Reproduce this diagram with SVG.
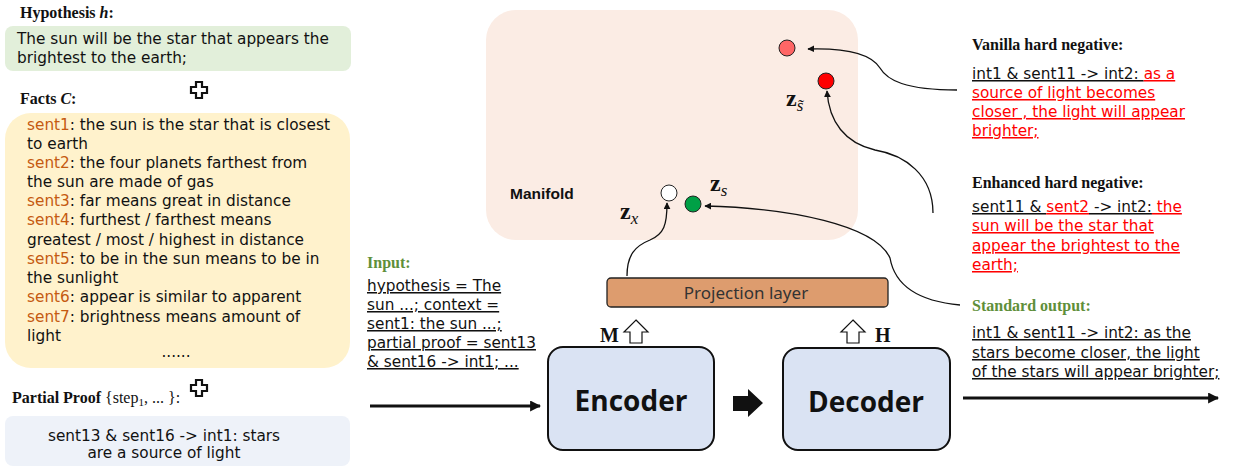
<svg xmlns="http://www.w3.org/2000/svg" width="1236" height="468" viewBox="0 0 1236 468">
<defs>
<style>
.t{font-family:"DejaVu Sans","Liberation Sans",sans-serif;font-size:15.3px;fill:#111}
.h{font-family:"Liberation Serif",serif;font-weight:bold;font-size:16px;fill:#111}
.g{fill:#5f8f3a}
.o{fill:#c55a11}
.r{fill:#ff0000}
.u{text-decoration:underline}
.big{font-family:"Open Sans","Noto Sans",sans-serif;font-weight:bold;font-size:28px;fill:#111}
.zb{font-family:"Liberation Serif",serif;font-weight:bold;font-size:24px;fill:#111}
.zi{font-family:"Liberation Serif",serif;font-style:italic;font-weight:normal;font-size:17px}
.mh{font-size:20px}
.con{fill:none;stroke:#111;stroke-width:1.3}
.thick{fill:none;stroke:#111;stroke-width:3}
</style>
<marker id="ah" viewBox="0 0 10 10" refX="9" refY="5" markerWidth="7" markerHeight="7" orient="auto" markerUnits="userSpaceOnUse">
<path d="M0,0 L10,5 L0,10 z" fill="#111"/>
</marker>
<marker id="ahb" viewBox="0 0 10 10" refX="9" refY="5" markerWidth="11" markerHeight="11" orient="auto" markerUnits="userSpaceOnUse">
<path d="M0,0 L10,5 L0,10 z" fill="#111"/>
</marker>
<path id="plus" d="M-3,-8 h6 v5 h5 v6 h-5 v5 h-6 v-5 h-5 v-6 h5 z" fill="#fff" stroke="#111" stroke-width="2.2"/>
</defs>

<g id="hypothesis">
<text class="h" x="20" y="18" font-size="16.5">Hypothesis <tspan font-style="italic">h</tspan>:</text>
<rect x="5" y="26" width="346" height="45" rx="8" fill="#e2efda"/>
<text class="t" x="17" y="44">The sun will be the star that appears the</text>
<text class="t" x="17" y="63">brightest to the earth;</text>
</g>

<use href="#plus" x="199" y="90"/>

<g id="facts">
<text class="h" x="20" y="104">Facts <tspan font-style="italic">C</tspan>:</text>
<rect x="5" y="113" width="345" height="255" rx="26" fill="#fff2cc"/>
<text class="t" x="27" y="130"><tspan class="o">sent1</tspan>: the sun is the star that is closest</text>
<text class="t" x="27" y="149">to earth</text>
<text class="t" x="27" y="168"><tspan class="o">sent2</tspan>: the four planets farthest from</text>
<text class="t" x="27" y="187">the sun are made of gas</text>
<text class="t" x="27" y="206"><tspan class="o">sent3</tspan>: far means great in distance</text>
<text class="t" x="27" y="225"><tspan class="o">sent4</tspan>: furthest / farthest means</text>
<text class="t" x="27" y="245">greatest / most / highest in distance</text>
<text class="t" x="27" y="264"><tspan class="o">sent5</tspan>: to be in the sun means to be in</text>
<text class="t" x="27" y="283">the sunlight</text>
<text class="t" x="27" y="302"><tspan class="o">sent6</tspan>: appear is similar to apparent</text>
<text class="t" x="27" y="322"><tspan class="o">sent7</tspan>: brightness means amount of</text>
<text class="t" x="27" y="341">light</text>
<text class="t" x="176" y="357" text-anchor="middle">......</text>
</g>

<use href="#plus" x="199" y="388"/>

<g id="partial-proof">
<text class="h" x="12" y="403">Partial Proof <tspan font-weight="normal">{step<tspan font-size="11" dy="3">1</tspan><tspan dy="-3">, ... }:</tspan></tspan></text>
<rect x="5" y="416" width="345" height="50" rx="8" fill="#eef2f9"/>
<text class="t" x="164" y="441" text-anchor="middle">sent13 &amp; sent16 -&gt; int1: stars</text>
<text class="t" x="164" y="458" text-anchor="middle">are a source of light</text>
</g>

<g id="input">
<text class="h g" x="367" y="268">Input:</text>
<text class="t u" x="367" y="291">hypothesis = The</text>
<text class="t u" x="367" y="310">sun ...; context =</text>
<text class="t u" x="367" y="329">sent1: the sun ...;</text>
<text class="t u" x="367" y="348">partial proof = sent13</text>
<text class="t u" x="367" y="367">&amp; sent16 -&gt; int1;  ...</text>
</g>

<g id="manifold">
<rect x="486" y="10" width="372" height="230" rx="30" fill="#fbece4"/>
<text x="510" y="199" font-family="Liberation Sans,Arial,sans-serif" font-weight="bold" font-size="15.5" fill="#111">Manifold</text>
<circle cx="787" cy="48" r="8" fill="#ff6666" stroke="#222" stroke-width="1"/>
<circle cx="826" cy="81" r="8" fill="#ff0000" stroke="#222" stroke-width="1"/>
<circle cx="669" cy="193" r="8" fill="#ffffff" stroke="#222" stroke-width="1"/>
<circle cx="693" cy="204" r="8" fill="#00a046" stroke="#222" stroke-width="1"/>
<text class="zb" x="786" y="106">z<tspan class="zi" dy="5">s&#771;</tspan></text>
<text class="zb" x="620" y="219">z<tspan class="zi" dy="5">x</tspan></text>
<text class="zb" x="710" y="191">z<tspan class="zi" dy="5">s</tspan></text>
</g>

<g id="projection">
<rect x="607" y="278" width="281" height="29" rx="4" fill="#dd9c6e" stroke="#222" stroke-width="1.3"/>
<text x="746" y="299" text-anchor="middle" font-family="Noto Sans,DejaVu Sans,sans-serif" font-size="17" fill="#333">Projection layer</text>
</g>

<g id="encoder">
<rect x="548" y="347" width="166" height="103" rx="15" fill="#dae3f3" stroke="#111" stroke-width="2"/>
<text class="big" x="631" y="411" text-anchor="middle">Encoder</text>
<text class="h mh" x="600" y="342">M</text>
<path d="M636,320 L648,332 L642,332 L642,343 L630,343 L630,332 L624,332 Z" fill="#fff" stroke="#111" stroke-width="1.2"/>
</g>

<g id="decoder">
<rect x="783" y="348" width="167" height="102" rx="15" fill="#dae3f3" stroke="#111" stroke-width="2"/>
<text class="big" x="866" y="412" text-anchor="middle">Decoder</text>
<text class="h mh" x="875" y="342">H</text>
<path d="M853,320 L865,332 L859,332 L859,343 L847,343 L847,332 L841,332 Z" fill="#fff" stroke="#111" stroke-width="1.2"/>
</g>

<g id="vanilla">
<text class="h" x="972" y="50">Vanilla hard negative:</text>
<text class="t" x="972" y="79"><tspan class="u">int1 &amp; sent11 -&gt; int2: </tspan><tspan class="u r">as a</tspan></text>
<text class="t r u" x="972" y="98">source of light becomes</text>
<text class="t r u" x="972" y="117">closer , the light will appear</text>
<text class="t r u" x="972" y="136">brighter;</text>
</g>

<g id="enhanced">
<text class="h" x="972" y="188">Enhanced hard negative:</text>
<text class="t" x="972" y="212"><tspan class="u">sent11 &amp; </tspan><tspan class="u r">sent2</tspan><tspan class="u"> -&gt; int2:</tspan><tspan class="u r"> the</tspan></text>
<text class="t r u" x="972" y="231">sun will be the star that</text>
<text class="t r u" x="972" y="251">appear the brightest to the</text>
<text class="t r u" x="972" y="270">earth;</text>
</g>

<g id="standard-output">
<text class="h g" x="972" y="311">Standard output:</text>
<text class="t u" x="972" y="338">int1 &amp; sent11 -&gt; int2: as the</text>
<text class="t u" x="972" y="358">stars become closer, the light</text>
<text class="t u" x="972" y="377">of the stars will appear brighter;</text>
</g>

<g id="connectors">
<path class="thick" d="M370,406 L540,406" marker-end="url(#ahb)"/>
<path class="thick" d="M963,398 L1218,398" marker-end="url(#ahb)"/>
<path d="M733,396 L748,396 L748,389 L763,403 L748,417 L748,411 L733,411 Z" fill="#111"/>
<path class="con" d="M957,90 C905,90 887,80 880,68 C870,52 840,48 808,49" marker-end="url(#ah)"/>
<path class="con" d="M933,213 C933,175 905,155 875,150 C845,143 829,122 827,91" marker-end="url(#ah)"/>
<path class="con" d="M960,305 C905,300 893,275 890,258 C875,225 790,208 705,206" marker-end="url(#ah)"/>
<path class="con" d="M627,276 C627,255 635,246 650,240 C664,234 667,225 667,203" marker-end="url(#ah)"/>
</g>
</svg>
